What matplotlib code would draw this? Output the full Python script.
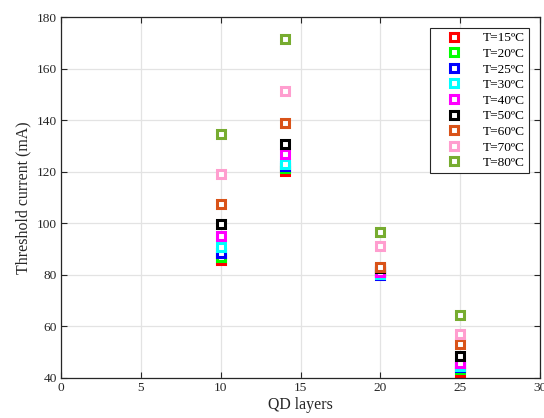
import matplotlib
matplotlib.use("Agg")
import matplotlib.pyplot as plt

plt.rcParams['font.family'] = ['Liberation Serif', 'DejaVu Serif']
plt.rcParams['mathtext.fontset'] = 'stix'

# Number of quantum-dot layers
qd_layers = [10, 14, 20, 25]

# Threshold current (mA) at each temperature
temps = ["15", "20", "25", "30", "40", "50", "60", "70", "80"]
i_th_15 = [85.8, 120.3, 81.5, 42.5]
i_th_20 = [87.0, 121.3, 81.0, 43.5]
i_th_25 = [88.4, 122.4, 79.8, 44.1]
i_th_30 = [90.7, 122.9, 80.4, 44.6]
i_th_40 = [95.0, 126.8, 81.0, 46.0]
i_th_50 = [99.7, 130.8, 82.5, 48.7]
i_th_60 = [107.4, 138.9, 83.0, 53.0]
i_th_70 = [119.1, 151.3, 91.1, 56.9]
i_th_80 = [134.8, 171.5, 96.6, 64.3]

series = [i_th_15, i_th_20, i_th_25, i_th_30, i_th_40,
          i_th_50, i_th_60, i_th_70, i_th_80]
colors = ["#FF0000", "#00FF00", "#0000FF", "#00FFFF", "#FF00FF",
          "#000000", "#D95319", "#FF9ECF", "#77AC30"]

fig = plt.figure(figsize=(5.44, 4.18), dpi=100)
ax = fig.add_axes([61 / 544, 1 - 378 / 418, (540 - 61) / 544, (378 - 17) / 418])

for t, vals, c in zip(temps, series, colors):
    ax.plot(qd_layers, vals, linestyle="none", marker="s", markersize=5.4,
            markeredgewidth=2.2, markeredgecolor=c, markerfacecolor="white",
            label=f"T={t}ºC", clip_on=False)

ax.set_xlim(0, 30)
ax.set_ylim(40, 180)
ax.set_xticks(range(0, 31, 5))
ax.set_yticks(range(40, 181, 20))
ax.grid(True, color="#E3E3E3", linewidth=0.9)
ax.set_axisbelow(True)

ax.tick_params(direction="in", top=True, right=True, length=4, width=0.8,
               labelsize=9.6, pad=3, colors="#262626", labelcolor="#262626")
for s in ax.spines.values():
    s.set_linewidth(0.9)
    s.set_color("#262626")

ax.set_xlabel("QD layers", fontsize=11.4, labelpad=2, color="#262626")
ax.set_ylabel("Threshold current (mA)", fontsize=11.4, labelpad=4, color="#262626")

leg = ax.legend(loc="upper right", bbox_to_anchor=(529 / 544, 1 - 28 / 418),
                bbox_transform=fig.transFigure, fontsize=9.6, frameon=True,
                fancybox=False, edgecolor="#262626", framealpha=1,
                labelspacing=0.245, handlelength=3.0, handletextpad=0.7,
                borderpad=0.3, borderaxespad=0, numpoints=1)
leg.get_frame().set_linewidth(0.8)

fig.savefig("out.png", dpi=100)
